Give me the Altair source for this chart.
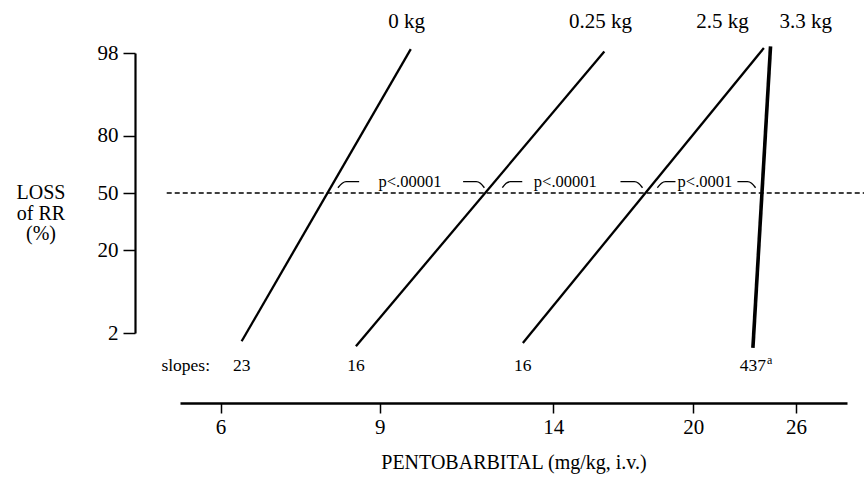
import altair as alt
import pandas as pd
from statistics import NormalDist

_nd = NormalDist()


def probit(pct):
    return _nd.inv_cdf(pct / 100.0)


# ---- data ----
groups = ["0 kg", "0.25 kg", "2.5 kg", "3.3 kg"]
dose_low = [6.33, 8.47, 12.96, 23.29]      # mg/kg at bottom end of each line
dose_high = [9.74, 15.95, 23.95, 24.36]    # mg/kg at top end of each line
pct_low = [1.48, 1.23, 1.39, 1.15]         # % loss of RR at bottom end
pct_high = [98.26, 98.10, 98.33, 98.42]    # % loss of RR at top end
slopes = ["23", "16", "16", "437"]
group_label_dose = [9.64, 15.79, 21.55, 26.64]
group_label_pct = 99.4
slope_row_pct = 0.567
slopes_word_dose = 5.84

y_ticks = [2, 20, 50, 80, 98]
x_ticks = [6, 9, 14, 20, 26]
x_domain = [5.41, 29.6]

dash_dose = [5.23, 30.96]
dash_pct = 50

p_labels = ["p<.00001", "p<.00001", "p<.0001"]
p_label_dose = [9.72, 14.44, 20.61]
p_label_pct = 56.2

arc_id = ["A"] * 4 + ["B"] * 4 + ["C"] * 4 + ["D"] * 4 + ["E"] * 4 + ["F"] * 4
arc_dose = [8.09, 8.18, 8.26, 8.54,
            11.13, 11.51, 11.63, 11.75,
            12.30, 12.42, 12.55, 12.94,
            16.62, 17.22, 17.40, 17.58,
            18.26, 18.45, 18.64, 19.12,
            22.39, 22.97, 23.21, 23.45]
arc_pct = [53.1, 55.7, 56.6, 56.6,
           56.6, 56.6, 55.7, 53.1,
           53.1, 55.7, 56.6, 56.6,
           56.6, 56.6, 55.7, 53.1,
           53.1, 55.7, 56.6, 56.6,
           56.6, 56.6, 55.7, 53.1]

# ---- tables ----
lines_df = pd.DataFrame({
    "group": groups,
    "dose_low": dose_low,
    "dose_high": dose_high,
    "pr_low": [probit(v) for v in pct_low],
    "pr_high": [probit(v) for v in pct_high],
    "slope": slopes,
    "label_dose": group_label_dose,
})
lines_df["label_pr"] = probit(group_label_pct)
lines_df["slope_pr"] = probit(slope_row_pct)

dash_df = pd.DataFrame({"d1": [dash_dose[0]], "d2": [dash_dose[1]], "pr": [probit(dash_pct)]})
p_df = pd.DataFrame({"txt": p_labels, "dose": p_label_dose, "pr": [probit(p_label_pct)] * 3})
arc_df = pd.DataFrame({"arc": arc_id, "dose": arc_dose, "pr": [probit(v) for v in arc_pct]})
word_df = pd.DataFrame({"txt": ["slopes:"], "dose": [slopes_word_dose], "pr": [probit(slope_row_pct)]})

FONT = "Liberation Serif"
xscale = alt.Scale(type="log", domain=x_domain)
yscale = alt.Scale(domain=[probit(2), probit(98)], zero=False)

label_expr = ("datum.value < -1.5 ? '2' : datum.value < -0.4 ? '20' : "
              "datum.value < 0.4 ? '50' : datum.value < 1.5 ? '80' : '98'")

x_axis = alt.Axis(values=x_ticks, labelExpr="format(datum.value, 'd')", offset=70,
                  tickSize=10, tickWidth=1.5, domainWidth=2.5, labelFontSize=21,
                  labelPadding=3, labelFont=FONT, grid=False,
                  title="PENTOBARBITAL (mg/kg, i.v.)", titleFont=FONT,
                  titleFontSize=20, titleFontWeight="normal", titleY=59,
                  titleBaseline="middle")
y_axis = alt.Axis(values=[probit(v) for v in y_ticks], labelExpr=label_expr, offset=45,
                  tickSize=12, tickWidth=1.5, domainWidth=2.2, labelFontSize=21,
                  labelPadding=5, labelFont=FONT, grid=False,
                  title=["LOSS", "of RR", "(%)"], titleFont=FONT, titleFontSize=20,
                  titleFontWeight="normal", titleAngle=0, titleX=-94.5, titleY=139.7,
                  titleAlign="center", titleBaseline="middle", titleLineHeight=20.5)


def X(field):
    return alt.X(field, type="quantitative", scale=xscale, axis=x_axis)


def Y(field):
    return alt.Y(field, type="quantitative", scale=yscale, axis=y_axis)


lines = alt.Chart(lines_df).mark_rule(color="black", strokeCap="butt").encode(
    x=X("dose_low"),
    x2="dose_high:Q",
    y=Y("pr_low"),
    y2="pr_high:Q",
    strokeWidth=alt.condition(alt.datum.group == "3.3 kg", alt.value(3.6), alt.value(2.3)),
)

dash = alt.Chart(dash_df).mark_rule(color="black", strokeDash=[5, 3], strokeWidth=1.4).encode(
    x=X("d1"),
    x2="d2:Q",
    y=Y("pr"),
)

arcs = alt.Chart(arc_df).mark_line(color="black", strokeWidth=1.4, interpolate="monotone").encode(
    x=X("dose"),
    y=Y("pr"),
    detail="arc:N",
)

ptext = alt.Chart(p_df).mark_text(font=FONT, fontSize=16.5, color="black",
                                  align="center", baseline="middle").encode(
    x=X("dose"),
    y=Y("pr"),
    text="txt:N",
)

gtext = alt.Chart(lines_df).mark_text(font=FONT, fontSize=21, color="black",
                                      align="center", baseline="middle").encode(
    x=X("label_dose"),
    y=Y("label_pr"),
    text="group:N",
)

stext = alt.Chart(lines_df).mark_text(font=FONT, fontSize=17.5, color="black",
                                      align="center", baseline="middle").encode(
    x=X("dose_low"),
    y=Y("slope_pr"),
    text="slope:N",
)

sup = alt.Chart(lines_df).transform_filter(alt.datum.group == "3.3 kg").mark_text(
    font=FONT, fontSize=12, color="black", align="left", baseline="middle", dx=14, dy=-6,
    text="a").encode(
    x=X("dose_low"),
    y=Y("slope_pr"),
)

word = alt.Chart(word_df).mark_text(font=FONT, fontSize=17.5, color="black",
                                    align="right", baseline="middle").encode(
    x=X("dose"),
    y=Y("pr"),
    text="txt:N",
)

chart = alt.layer(lines, dash, arcs, ptext, gtext, stext, sup, word).properties(
    width=667, height=280,
    autosize=alt.AutoSizeParams(type="none"),
    padding={"left": 180, "top": 53, "right": 17, "bottom": 161},
    background="white",
).configure_view(stroke=None).configure_axis(
    domainColor="black", tickColor="black", labelColor="black", titleColor="black",
)

chart.save("out.html", embed_options={"renderer": "svg", "actions": False})
